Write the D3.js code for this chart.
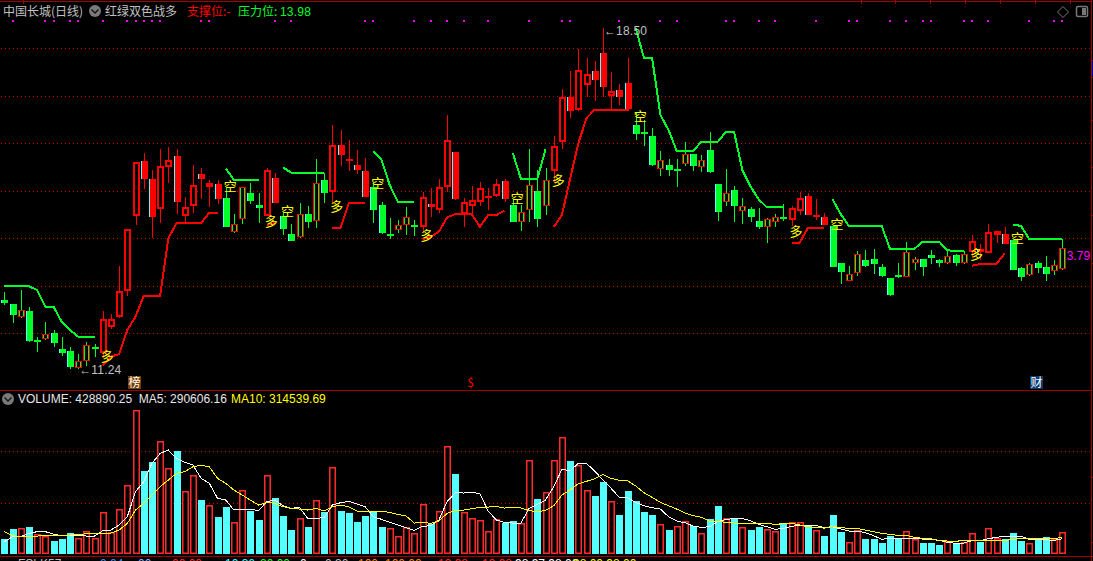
<!DOCTYPE html>
<html><head><meta charset="utf-8">
<script src="https://cdn.jsdelivr.net/npm/d3@7"></script>
<style>
html,body{margin:0;padding:0;background:#000;overflow:hidden}
svg{display:block}
text{font-family:"Liberation Sans",Arial,sans-serif;white-space:pre}
.cjk{font-family:"Noto Sans CJK SC","Noto Sans",sans-serif}
</style></head><body>
<svg id="c" width="1093" height="561"></svg>
<script>
const stockTitle="中国长城(日线)", indicatorName="红绿双色战多";
const supportLabel="支撑位:-", pressureLabel="压力位:", pressureValue="13.98";
const volumeLabel="VOLUME: 428890.25  MA5: 290606.16", ma10Label="MA10: 314539.69";
const priceGrid=[12,13,14,15,16,17,18];
const volGrid=[1000,2000];
const openP=[12.70,12.61,12.35,12.47,11.83,11.87,12.00,11.67,11.63,11.26,11.42,11.68,11.58,12.14,12.34,12.88,14.48,15.62,15.25,14.61,15.51,15.73,14.48,14.69,15.35,15.08,15.14,14.84,14.14,14.40,14.95,14.70,14.47,15.27,14.48,14.09,14.03,14.51,14.37,15.23,14.98,15.96,15.66,15.54,15.42,15.07,14.70,14.05,14.18,14.27,14.24,14.23,14.72,14.60,15.09,15.81,14.51,14.67,14.76,14.88,14.88,15.20,14.70,14.35,14.60,15.00,14.67,15.42,16.03,16.97,16.70,17.23,17.52,17.90,16.99,17.12,17.26,16.39,16.23,16.15,15.46,15.54,15.44,15.57,15.77,15.51,15.86,15.14,14.77,15.02,14.58,14.62,14.36,14.24,14.35,14.45,14.39,14.58,14.89,14.48,14.44,14.26,13.48,13.11,13.27,13.54,13.57,13.40,13.16,13.23,13.19,13.48,13.57,13.65,13.54,13.47,13.65,13.48,13.72,13.77,13.70,14.06,14.10,13.96,13.37,13.23,13.47,13.39,13.32,13.35];
const closeP=[12.63,12.39,12.48,11.84,11.85,11.98,11.80,11.59,11.30,11.41,11.75,11.71,12.30,12.30,12.88,14.19,15.60,15.24,14.45,15.52,15.64,14.76,14.65,15.12,15.25,15.16,14.83,14.24,14.30,15.07,14.79,14.63,15.44,14.75,14.19,13.95,14.51,14.35,15.16,14.96,15.96,15.75,15.63,15.44,14.86,14.60,14.11,14.09,14.27,14.44,14.28,14.86,14.65,15.07,16.07,14.82,14.76,14.80,15.05,14.90,15.14,14.82,14.35,14.55,15.12,14.40,15.22,15.94,16.97,16.67,17.54,17.45,17.33,17.19,17.10,16.98,16.72,16.19,16.21,15.54,15.64,15.44,15.45,15.77,15.53,15.64,15.39,14.56,14.95,14.68,14.68,14.44,14.24,14.40,14.44,14.40,14.63,14.84,14.50,14.50,14.29,13.40,13.30,13.24,13.66,13.42,13.45,13.21,12.80,13.18,13.71,13.57,13.40,13.59,13.49,13.62,13.49,13.66,13.94,13.72,14.13,14.15,13.89,13.33,13.18,13.45,13.38,13.24,13.43,13.79];
const highP=[12.87,12.62,12.91,12.55,11.93,12.23,12.07,11.92,11.71,11.56,11.81,11.77,12.47,12.41,13.42,14.19,15.60,15.79,15.44,15.89,15.92,15.89,14.86,15.54,15.47,15.23,15.23,15.05,14.51,15.07,15.16,14.95,15.49,15.37,14.56,14.30,14.74,14.68,15.66,15.38,16.38,16.28,16.07,15.86,15.69,15.18,14.76,14.42,14.39,14.65,14.39,14.98,15.05,15.24,16.60,15.81,14.84,15.10,15.19,15.05,15.24,15.24,14.83,14.70,15.87,15.44,15.49,16.15,17.14,17.52,17.99,17.80,17.73,18.43,17.50,17.25,17.80,16.64,16.49,16.32,15.84,15.68,15.67,16.02,15.77,15.75,16.24,15.14,15.46,15.10,14.84,14.65,14.64,14.42,14.51,14.72,14.68,14.97,14.95,14.83,14.53,14.26,13.48,13.42,13.73,13.75,13.77,13.46,13.16,13.47,13.93,13.61,13.57,13.75,13.56,13.75,13.68,13.74,14.06,13.87,14.30,14.15,14.23,13.96,13.40,13.49,13.52,13.63,13.54,13.98];
const lowP=[12.60,12.22,12.32,11.82,11.61,11.86,11.72,11.52,11.25,11.24,11.31,11.51,11.48,12.09,12.33,12.79,14.28,15.04,14.01,14.32,15.16,14.51,14.32,14.53,14.82,14.66,14.72,14.23,14.11,14.30,14.72,14.33,14.47,14.74,14.07,13.95,14.01,14.22,14.22,14.75,14.74,15.53,15.42,15.35,14.86,14.32,14.09,13.98,14.11,14.07,14.05,14.13,14.45,14.53,14.97,14.81,14.24,14.51,14.67,14.60,14.87,14.77,14.34,14.16,14.35,14.24,14.49,15.17,15.88,16.54,16.68,16.98,16.90,16.98,16.72,16.81,16.67,16.07,15.95,15.53,15.32,15.32,15.07,15.53,15.42,15.40,15.37,14.36,14.68,14.35,14.30,14.35,14.20,13.91,14.24,14.37,14.26,14.49,14.50,14.39,14.28,13.39,13.04,13.10,13.21,13.40,13.25,13.19,12.79,13.16,13.19,13.33,13.21,13.46,13.39,13.46,13.42,13.46,13.59,13.54,13.69,13.90,13.89,13.33,13.11,13.21,13.26,13.11,13.23,13.34];
const n=null;
const supportLine=[n,n,n,n,n,n,n,n,n,n,n,n,11.33,11.51,11.56,12.07,12.35,12.79,12.79,12.79,14.00,14.32,14.32,14.32,14.32,14.54,14.54,n,n,n,n,n,14.28,14.32,n,n,n,n,n,n,14.22,14.22,14.74,14.75,14.75,n,n,n,n,n,n,13.98,14.03,14.14,14.44,14.51,14.51,14.51,14.24,14.49,14.49,14.58,n,n,n,n,n,14.24,14.49,15.25,16.00,16.53,16.71,16.71,16.71,16.71,16.71,n,n,n,n,n,n,n,n,n,n,n,n,n,n,n,n,n,n,n,13.91,13.91,14.22,14.22,14.22,n,n,n,n,n,n,n,n,n,n,n,n,n,n,n,n,n,13.42,13.46,13.46,13.46,13.68,n,n,n,n,n,n,n];
const pressureLine=[13.00,13.00,13.00,12.99,12.91,12.56,12.56,12.24,12.07,11.93,11.93,11.93,n,n,n,n,n,n,n,n,n,n,n,n,n,n,n,15.47,15.23,15.23,15.23,15.23,n,n,15.49,15.38,15.38,15.38,15.38,15.38,n,n,n,n,n,15.84,15.65,15.12,14.77,14.77,14.77,n,n,n,n,n,n,n,n,n,n,n,15.80,15.25,15.25,15.25,15.87,n,n,n,n,n,n,n,n,n,n,18.43,17.80,17.80,16.60,16.28,15.84,15.84,15.84,16.03,16.03,16.03,16.24,16.24,15.44,15.09,14.82,14.65,14.65,14.65,n,n,n,n,n,14.82,14.51,14.26,14.26,14.26,14.26,14.26,13.78,13.78,13.78,13.78,13.93,13.93,13.93,13.75,13.73,13.73,n,n,n,n,n,14.29,14.26,13.98,13.98,13.98,13.98,13.98];
const volume=[286,482,495,521,378,345,247,286,404,306,443,306,807,417,866,1335,2799,1614,1790,2194,1667,2005,1217,1530,1048,944,716,911,612,1237,833,658,1530,1087,736,462,690,521,1042,814,1686,833,794,618,736,814,521,495,339,514,397,963,573,827,2096,1556,807,690,651,436,671,605,638,592,1823,1068,1198,1823,2272,1810,1725,1237,1126,1400,1022,755,1224,1029,814,755,573,462,534,631,534,397,677,931,690,684,514,462,521,475,436,586,612,612,553,456,345,755,423,221,456,286,286,208,345,286,436,280,208,208,169,247,208,221,397,228,495,306,280,404,247,202,267,326,280,428.89];
const ma5=[234,332,332,397,430,430,384,352,352,365,345,345,449,462,560,723,1211,1406,1764,1960,2025,1862,1784,1732,1471,1374,1081,1048,853,872,872,840,1016,1048,937,885,905,690,690,703,950,996,1022,970,918,723,671,612,560,508,456,534,547,658,1016,1191,1185,1198,1172,833,658,612,599,599,885,963,1048,1309,1647,1621,1764,1764,1614,1439,1276,1100,1094,1003,937,898,872,723,638,605,540,514,527,625,671,684,684,644,573,527,475,495,534,553,553,553,508,527,482,443,443,410,352,280,306,293,299,293,286,280,260,221,202,208,254,254,293,319,339,339,339,280,280,273,260,290.61];
const ma10=[430,352,332,339,345,352,358,358,365,371,391,391,404,404,462,592,853,983,1146,1309,1439,1569,1601,1699,1725,1699,1471,1374,1243,1146,1048,950,1003,983,918,885,872,853,885,833,918,950,918,833,820,827,827,807,768,736,599,612,592,638,788,840,853,879,905,911,924,892,905,892,846,814,846,937,1146,1243,1367,1413,1465,1549,1471,1432,1426,1322,1191,1100,1003,937,872,794,742,710,631,631,612,599,592,592,592,592,573,586,592,560,527,508,501,534,508,495,495,462,430,397,378,358,358,319,299,293,260,247,241,260,260,260,254,260,260,280,299,293,293,299,299,314.54];
const dotBars=[1,5,6,8,9,12,15,16,17,18,19,24,25,33,35,44,45,50,52,54,56,59,64,68,69,75,80,82,88,89,92,94,99,103,104,108,110,112,113,117,118,120,125,128,129];
const longBars=[12,32,40,51,67,96,118];
const longPrices=[11.54,14.39,14.70,14.09,15.25,14.18,13.69];
const shortBars=[27,34,45,62,77,101,123];
const shortPrices=[15.12,14.60,15.18,14.87,16.60,14.32,14.03];
const eventBars=[{bar:16,t:"榜",bg:"#7a3f00",c:"#fff"},{bar:57,t:"$",bg:"none",c:"#ff0000"},{bar:126,t:"财",bg:"#0a3a6e",c:"#fff"}];
const lowMark=11.24, highMark=18.50, lastMark=13.79, lowBar=9, highBar=73, lastBar=129;
const footer=[[18,"#bbb","FSLK57"],[100,"#3a8fff","0.04"],[138,"#7fb0ff","00"],[172,"#f22","00.00"],[225,"#3ff","10.36"],[260,"#2f2","20.00"],[300,"#fff","0"],[325,"#bbb","0.30"],[358,"#f80","100"],[385,"#f80","100.00"],[438,"#f22","13.98"],[482,"#f22","13.98"],[515,"#fff","98.97 98.00"],[573,"#ff0","98.00 98.00"]];

const RED="#ff0000",GREEN="#00ff29",CYAN="#54ffff",GRID="#b00000",YEL="#ffff00",MAG="#ff00ff",GREY="#c0c0c0";
const svg=d3.select("#c");
svg.append("rect").attr("width",1093).attr("height",561).attr("fill","#000");
const x=d3.scaleLinear().domain([0,129]).range([4.33,1062.1]);
const y=d3.scaleLinear().domain([12,18]).range([333.3,48.3]);
const v=d3.scaleLinear().domain([0,2000]).range([553.7,451.3]);
const px=i=>Math.round(x(i));
const idx=d3.range(openP.length);

// gridlines
const gridG=svg.append("g").attr("shape-rendering","crispEdges");
gridG.selectAll(".p").data(priceGrid).join("line").attr("x1",1).attr("x2",1090)
 .attr("y1",d=>Math.round(y(d))+.5).attr("y2",d=>Math.round(y(d))+.5)
 .attr("stroke",GRID).attr("stroke-dasharray","1 3");
gridG.selectAll(".v").data(volGrid).join("line").attr("x1",1).attr("x2",1090)
 .attr("y1",d=>Math.round(v(d))+.5).attr("y2",d=>Math.round(v(d))+.5)
 .attr("stroke",GRID).attr("stroke-dasharray","1 3");

// frame
const fr=svg.append("g").attr("stroke","#a00000").attr("shape-rendering","crispEdges").attr("fill","none");
[[0,1.5,1091,1.5],[0,390.5,1091,390.5],[0,556.5,1093,556.5],[1091.5,0,1091.5,561]].forEach(a=>fr.append("line").attr("x1",a[0]).attr("y1",a[1]).attr("x2",a[2]).attr("y2",a[3]));
[23,861,895,930,965,1000,1035,1070].forEach(t=>fr.append("line").attr("x1",t+.5).attr("x2",t+.5).attr("y1",0).attr("y2",4));
[60,77,120,167,215,263,477,542].forEach(t=>fr.append("line").attr("x1",1091).attr("x2",1093).attr("y1",t+.5).attr("y2",t+.5));
svg.append("rect").attr("x",1092).attr("y",61).attr("width",1).attr("height",15).attr("fill","#0000a8");

// magenta signal dots
svg.append("g").selectAll("rect").data(dotBars).join("rect")
 .attr("x",d=>px(d)-1).attr("y",20).attr("width",2).attr("height",2).attr("fill",MAG);

// last price label (behind candle)
svg.append("text").attr("x",x(lastBar)-2).attr("y",y(lastMark)+12).attr("fill",MAG).attr("font-size",12).text(lastMark.toFixed(2));

// candles
const cg=svg.append("g").attr("shape-rendering","crispEdges");
idx.forEach(i=>{
  const zoneRed=supportLine[i]!==null;
  const up=closeP[i]>=openP[i];
  const top=Math.round(y(Math.max(openP[i],closeP[i]))),bot=Math.round(y(Math.min(openP[i],closeP[i])));
  const cx=px(i),h=Math.max(bot-top,1),wick=zoneRed?RED:GREEN;
  cg.append("rect").attr("x",cx).attr("width",1).attr("y",Math.round(y(highP[i]))).attr("height",Math.max(Math.round(y(lowP[i]))-Math.round(y(highP[i])),1)).attr("fill",wick);
  if(h<=2){cg.append("rect").attr("x",cx-3).attr("width",7).attr("y",top).attr("height",2).attr("fill",wick);return;}
  if(up){
    cg.append("rect").attr("x",cx-3).attr("width",7).attr("y",top).attr("height",h).attr("fill",RED);
    if(zoneRed){cg.append("rect").attr("x",cx-1).attr("width",3).attr("y",top+2).attr("height",Math.max(h-4,0)).attr("fill","#000");}
    else{cg.append("rect").attr("x",cx-2).attr("width",5).attr("y",top+1).attr("height",Math.max(h-2,0)).attr("fill",GREEN);
         cg.append("rect").attr("x",cx-1).attr("width",3).attr("y",top+1).attr("height",Math.max(h-2,0)).attr("fill","#000");}
  }else{
    cg.append("rect").attr("x",cx-3).attr("width",7).attr("y",top).attr("height",h).attr("fill",CYAN);
    cg.append("rect").attr("x",cx-2).attr("width",6).attr("y",top).attr("height",h).attr("fill",zoneRed?RED:GREEN);
  }
});

// support / pressure lines
const priceLine=d3.line().defined(d=>d!==null).x((d,i)=>x(i)).y(d=>y(d));
svg.append("path").attr("d",priceLine(pressureLine)).attr("fill","none").attr("stroke",GREEN).attr("stroke-width",2).attr("shape-rendering","crispEdges");
svg.append("path").attr("d",priceLine(supportLine)).attr("fill","none").attr("stroke",RED).attr("stroke-width",2).attr("shape-rendering","crispEdges");

// signal labels
svg.append("g").selectAll("text").data(longBars).join("text").attr("class","cjk")
 .attr("x",d=>x(d)+4.5).attr("y",(d,i)=>y(longPrices[i])+6).attr("text-anchor","middle").attr("font-size",13).attr("fill",YEL).text("多");
svg.append("g").selectAll("text").data(shortBars).join("text").attr("class","cjk")
 .attr("x",d=>x(d)+4.5).attr("y",(d,i)=>y(shortPrices[i])+6).attr("text-anchor","middle").attr("font-size",13).attr("fill",YEL).text("空");

// high / low marks
svg.append("text").attr("x",x(lowBar)+1).attr("y",y(lowMark)+5).attr("fill",GREY).attr("font-size",12).attr("letter-spacing",.2).text("←"+lowMark.toFixed(2));
svg.append("text").attr("x",x(highBar)+1).attr("y",y(highMark)+10).attr("fill",GREY).attr("font-size",12).attr("letter-spacing",.2).text("←"+highMark.toFixed(2));

// event badges
eventBars.forEach(e=>{
  const bx=px(e.bar)-8;
  if(e.bg!=="none")svg.append("rect").attr("x",bx).attr("y",376).attr("width",13).attr("height",13).attr("fill",e.bg);
  svg.append("text").attr("class","cjk").attr("x",bx+6.5).attr("y",387).attr("text-anchor","middle").attr("font-size",12).attr("fill",e.c).text(e.t);
});

// header
const hdr=svg.append("g").attr("font-size",12).attr("class","cjk");
hdr.append("text").attr("class","cjk").attr("x",3).attr("y",16).attr("fill",GREY).text(stockTitle);
svg.append("circle").attr("cx",95).attr("cy",11).attr("r",6).attr("fill","#7a7a7a");
svg.append("path").attr("d","M91.5 9.5L95 13L98.5 9.5").attr("fill","none").attr("stroke","#111").attr("stroke-width",1.3);
hdr.append("text").attr("class","cjk").attr("x",105).attr("y",16).attr("fill",GREY).text(indicatorName);
hdr.append("text").attr("class","cjk").attr("x",187).attr("y",16).attr("fill",RED).text(supportLabel);
hdr.append("text").attr("class","cjk").attr("x",238).attr("y",16).attr("fill",GREEN).text(pressureLabel);
svg.append("text").attr("x",280).attr("y",16).attr("fill",GREEN).attr("font-size",12).attr("letter-spacing",.2).text(pressureValue);

// top right icons
svg.append("path").attr("d",`M${1063} 6.5L${1068.5} 12L${1063} 17.5L${1057.5} 12Z`).attr("fill","none").attr("stroke","#777");
svg.append("rect").attr("x",1076.5).attr("y",6.5).attr("width",11).attr("height",10).attr("rx",1.5).attr("fill","none").attr("stroke","#777").attr("stroke-width",1.5);
svg.append("rect").attr("x",1082).attr("y",8).attr("width",4).attr("height",7).attr("fill","#777");

// volume bars
const vg=svg.append("g");
idx.forEach(i=>{
  const up=closeP[i]>=openP[i],cx=px(i),t=Math.round(v(volume[i])),b=Math.round(v(0));
  if(up){
    vg.append("rect").attr("x",cx-3).attr("y",t).attr("width",7).attr("height",b-t).attr("fill","#ff2a2a");
    vg.append("rect").attr("x",cx-1.5).attr("y",t+1.5).attr("width",4).attr("height",Math.max(b-t-3,0)).attr("fill","#000");
  }else{
    vg.append("rect").attr("x",cx-3).attr("y",t).attr("width",7).attr("height",b-t).attr("fill",CYAN);
  }
});
const volLine=d3.line().x((d,i)=>x(i)).y(d=>v(d));
svg.append("path").attr("d",volLine(ma5)).attr("fill","none").attr("stroke","#fff").attr("stroke-width",1).attr("shape-rendering","crispEdges");
svg.append("path").attr("d",volLine(ma10)).attr("fill","none").attr("stroke",YEL).attr("stroke-width",1).attr("shape-rendering","crispEdges");

// volume header
svg.append("circle").attr("cx",8).attr("cy",399).attr("r",6).attr("fill","#7a7a7a");
svg.append("path").attr("d","M4.5 397.5L8 401L11.5 397.5").attr("fill","none").attr("stroke","#111").attr("stroke-width",1.3);
svg.append("text").attr("x",18).attr("y",403).attr("fill","#e8e8e8").attr("font-size",12).text(volumeLabel);
svg.append("text").attr("x",231).attr("y",403).attr("fill",YEL).attr("font-size",12).text(ma10Label);

// footer row (clipped by the window edge, as in the reference)
svg.append("g").selectAll("text").data(footer).join("text")
 .attr("x",d=>d[0]).attr("y",568).attr("fill",d=>d[1]).attr("font-size",12).text(d=>d[2]);
</script>
</body></html>
